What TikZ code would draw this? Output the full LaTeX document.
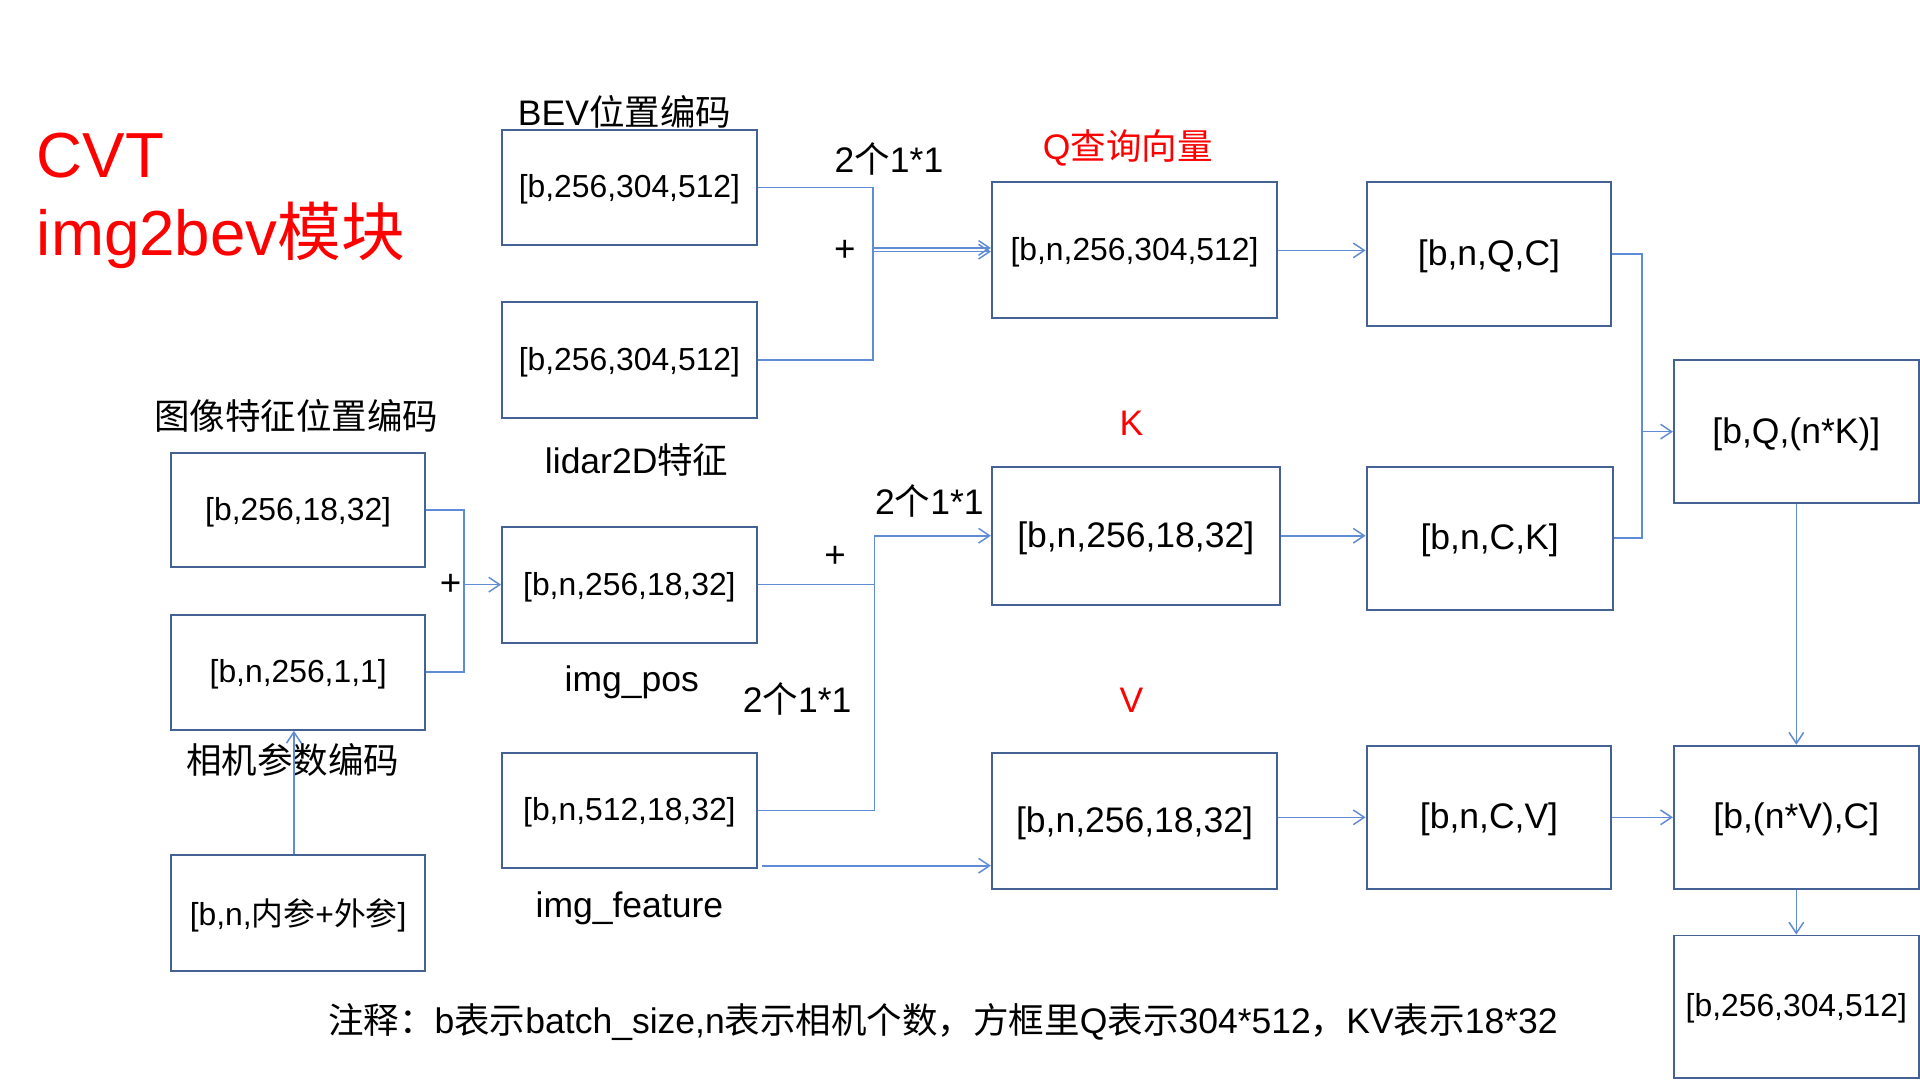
\documentclass[tikz,border=0pt]{standalone}
\usepackage{fontspec}
\setmainfont{Liberation Sans}
\newfontfamily\cjk{Noto Sans CJK SC}
\usetikzlibrary{arrows.meta}
\definecolor{boxc}{RGB}{68,98,148}
\definecolor{linec}{RGB}{95,140,212}
\definecolor{redc}{RGB}{255,0,0}
\newcommand{\fsz}[1]{\fontsize{#1}{#1}\selectfont}
\begin{document}
\begin{tikzpicture}[x=1pt,y=-1pt,
  box/.style={draw=boxc, line width=1.6pt, inner sep=0pt, font=\fsz{26}, text depth=2pt},
  bbox/.style={box, font=\fsz{29}},
  sz/.style 2 args={minimum width=#1, minimum height=#2},
  lbl/.style={inner sep=0pt, font=\fsz{29}},
  conn/.style={draw=linec, line width=1.3pt},
  arr/.style={conn, -{Straight Barb[length=9pt,width=12pt,line width=1.2pt]}}]
\useasboundingbox[fill=white] (0,0) rectangle (1568,882);

% title
\node[anchor=base west, inner sep=0pt, text=redc, font=\fsz{52}] (t1) at (30,145) {CVT};
\node[anchor=base west, inner sep=0pt, text=redc, font=\fsz{52}] (t2) at (30,209) {img2bev{\cjk 模块}};

% boxes
\node[box, sz={208pt}{94pt}] (bev) at (514,153) {[b,256,304,512]};
\node[box, sz={208pt}{94pt}] (lid) at (514,294) {[b,256,304,512]};
\node[box, sz={207pt}{93pt}] (ipe) at (243.5,416.5) {[b,256,18,32]};
\node[box, sz={207pt}{94pt}] (cam) at (243.5,549) {[b,n,256,1,1]};
\node[box, sz={207pt}{95pt}] (par) at (243.5,745.5) {[b,n,{\cjk 内参}+{\cjk 外参}]};
\node[box, sz={208pt}{95pt}] (ipos) at (514,477.5) {[b,n,256,18,32]};
\node[box, sz={208pt}{94pt}] (ifeat) at (514,662) {[b,n,512,18,32]};
\node[box, sz={233pt}{111pt}] (q) at (926.5,204.5) {[b,n,256,304,512]};
\node[bbox, sz={235pt}{113pt}] (k) at (927.5,437.5) {[b,n,256,18,32]};
\node[bbox, sz={233pt}{111pt}] (v) at (926.5,670.5) {[b,n,256,18,32]};
\node[bbox, sz={200pt}{117pt}] (qc) at (1216,207.5) {[b,n,Q,C]};
\node[bbox, sz={201pt}{117pt}] (ck) at (1216.5,439.5) {[b,n,C,K]};
\node[bbox, sz={200pt}{117pt}] (cv) at (1216,667.5) {[b,n,C,V]};
\node[bbox, sz={200pt}{117pt}] (qnk) at (1467,352.5) {[b,Q,(n*K)]};
\node[bbox, sz={200pt}{117pt}] (nvc) at (1467,667.5) {[b,(n*V),C]};
\node[box, sz={200pt}{116pt}] (out) at (1467,822) {[b,256,304,512]};

% labels
\node[lbl] (tbev) at (510,91) {BEV{\cjk 位置编码}};
\node[lbl, text=redc] (tq) at (921,121) {Q{\cjk 查询向量}};
\node[lbl] (c1) at (726,130) {2{\cjk 个}1*1};
\node[lbl] (c2) at (759,409) {2{\cjk 个}1*1};
\node[lbl] (c3) at (651,571) {2{\cjk 个}1*1};
\node[lbl, font=\fsz{30}] (p1) at (690,205) {+};
\node[lbl, font=\fsz{30}] (p2) at (682,455) {+};
\node[lbl, font=\fsz{30}] (p3) at (368,478) {+};
\node[lbl] (tlid) at (520,376) {lidar2D{\cjk 特征}};
\node[lbl] (tipe) at (242,340) {\cjk 图像特征位置编码};
\node[lbl, text=redc] (tk) at (924,346) {K};
\node[lbl, text=redc] (tv) at (924,572) {V};
\node[lbl] (tpos) at (516,557) {img\_pos};
\node[lbl] (tcam) at (239,621) {\cjk 相机参数编码};
\node[lbl] (tfeat) at (514,742) {img\_feature};
\node[lbl] (note) at (770,835) {{\cjk 注释：}b{\cjk 表示}batch\_size,n{\cjk 表示相机个数，方框里}Q{\cjk 表示}304*512{\cjk ，}KV{\cjk 表示}18*32};

% connectors
\coordinate (jq) at (713,204);
\draw[conn] (bev.east) -| (jq) |- (lid.east);
\draw[arr] ([yshift=1.5pt]jq) -- ([yshift=1.5pt]jq -| q.west);
\draw[arr] ([yshift=-1.5pt]jq) -- ([yshift=-1.5pt]jq -| q.west);

\coordinate (jp) at (379,477.5);
\draw[conn] (ipe.east) -| (jp) |- (cam.east);
\draw[arr] (jp) -- (ipos.west);
\draw[arr] ([xshift=-3.5pt]par.north) -- ([xshift=-3.5pt]cam.south);

\coordinate (jk) at (714,437.5);
\draw[conn] (ipos.east) -| (jk);
\draw[conn] (ifeat.east) -| (jk);
\draw[arr] (jk) -- (k.west);
\coordinate (vf) at (622,707);
\draw[arr] (vf) -- (vf -| v.west);

\draw[arr] (q.east) -- (q.east -| qc.west);
\draw[arr] (k.east) -- (k.east -| ck.west);
\draw[arr] (cv.west -| v.east) -- (cv.west);

\coordinate (jqk) at (1341,352.5);
\draw[conn] (qc.east) -| (jqk) |- (ck.east);
\draw[arr] (jqk) -- (qnk.west);
\draw[arr] (qnk.south) -- (nvc.north);
\draw[arr] (cv.east) -- (nvc.west);
\draw[arr] (nvc.south) -- (out.north);
\end{tikzpicture}
\end{document}
